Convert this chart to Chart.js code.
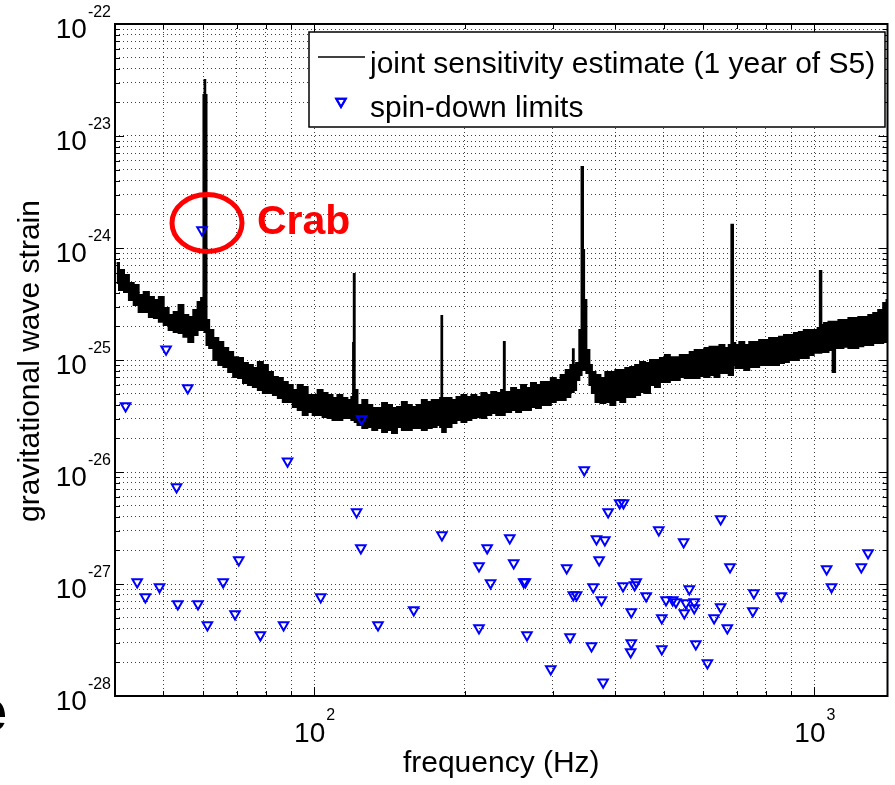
<!DOCTYPE html>
<html>
<head>
<meta charset="utf-8">
<script src="https://cdn.jsdelivr.net/npm/chart.js@4.4.1/dist/chart.umd.min.js"></script>
<style>
  html, body { margin: 0; padding: 0; background: #fff; }
  #wrap { width: 895px; height: 785px; }
</style>
</head>
<body>
<div id="wrap"><canvas id="strainChart" width="895" height="785"></canvas></div>
<script>
// joint sensitivity estimate: upper and lower edge of the noisy band (Hz, strain)
const sensFreq = [
  40.3, 41.2, 42.2, 43.1, 44.1, 45.1, 46.2, 47.3, 48.4, 49.5,
  50.6, 51.8, 53.0, 54.2, 55.4, 56.7, 58.0, 59.0, 59.9, 60.3,
  60.5, 60.7, 61.2, 62.2, 63.6, 65.1, 66.6, 68.1, 69.7, 71.3,
  72.9, 74.6, 76.3, 78.1, 79.9, 81.8, 83.7, 85.6, 87.6, 89.6,
  91.7, 93.8, 96.0, 98.2, 100.5, 102.8, 105.2, 107.6, 110.1, 112.6,
  115.2, 117.9, 119.5, 119.8, 120.3, 120.8, 123.4, 126.3, 129.2, 132.2,
  135.2, 138.3, 141.5, 144.8, 148.1, 151.5, 155.0, 158.6, 162.3, 166.1,
  169.9, 173.8, 177.8, 179.4, 180.0, 180.6, 186.1, 190.4, 194.8, 199.3,
  203.9, 208.6, 213.5, 218.4, 223.4, 228.6, 233.9, 239.0, 240.0, 241.0,
  244.8, 250.5, 256.3, 262.2, 268.2, 274.5, 280.8, 287.3, 293.9, 300.7,
  307.6, 314.7, 322.0, 328.5, 329.7, 331.0, 337.0, 340.9, 344.0, 345.5,
  347.5, 352.8, 357.3, 361.0, 369.3, 377.8, 386.5, 395.5, 404.6, 414.0,
  423.5, 433.3, 443.2, 453.5, 464.0, 474.7, 485.6, 496.9, 508.3, 520.1,
  532.1, 544.4, 556.9, 569.8, 582.9, 596.4, 610.2, 624.3, 638.7, 653.4,
  668.5, 680, 685, 690, 699.8, 716.0, 732.5, 749.5, 766.7, 784.5,
  802.5, 821.1, 840, 859.5, 879.3, 899.6, 920.4, 941.7, 963.3, 985.6,
  1008, 1022, 1029, 1036, 1055, 1079, 1096, 1104, 1130, 1156,
  1183, 1210, 1238, 1267, 1296, 1326, 1357, 1388, 1400
];
const sensHigh = [
  7.35e-25, 6.37e-25, 5.74e-25, 4.87e-25, 4.68e-25, 3.81e-25, 4.05e-25, 3.65e-25, 3.44e-25, 3.65e-25,
  2.91e-25, 2.52e-25, 2.68e-25, 3.10e-25, 2.52e-25, 2.42e-25, 2.80e-25, 3.30e-25, 3.58e-25, 2.32e-23,
  3.16e-23, 2.32e-23, 2.28e-25, 1.85e-25, 1.57e-25, 1.45e-25, 1.28e-25, 1.18e-25, 1.06e-25, 1.04e-25,
  9.41e-26, 9.03e-26, 8.49e-26, 9.61e-26, 9.03e-26, 7.82e-26, 7.06e-26, 6.91e-26, 6.37e-26, 5.99e-26,
  5.40e-26, 5.99e-26, 5.74e-26, 4.87e-26, 4.87e-26, 5.40e-26, 5.08e-26, 4.87e-26, 4.58e-26, 4.87e-26,
  4.58e-26, 4.40e-26, 4.68e-26, 1.42e-25, 5.86e-25, 5.40e-26, 3.97e-26, 4.40e-26, 3.97e-26, 3.73e-26,
  3.73e-26, 4.13e-26, 3.97e-26, 3.73e-26, 3.81e-26, 4.22e-26, 3.97e-26, 3.81e-26, 3.97e-26, 4.40e-26,
  4.22e-26, 4.40e-26, 4.40e-26, 4.58e-26, 2.47e-25, 4.58e-26, 4.58e-26, 4.40e-26, 4.68e-26, 4.87e-26,
  4.68e-26, 4.87e-26, 4.68e-26, 5.08e-26, 4.87e-26, 5.18e-26, 5.08e-26, 5.40e-26, 1.45e-25, 5.18e-26,
  5.18e-26, 5.63e-26, 5.40e-26, 5.99e-26, 5.63e-26, 6.24e-26, 5.99e-26, 6.37e-26, 6.37e-26, 6.91e-26,
  6.63e-26, 7.35e-26, 8.15e-26, 9.03e-26, 1.25e-25, 9.03e-26, 9.41e-26, 1.85e-25, 5.29e-24, 9.61e-25,
  3.44e-25, 1.23e-25, 9.03e-26, 7.82e-26, 7.35e-26, 6.91e-26, 7.82e-26, 7.82e-26, 8.15e-26, 8.15e-26,
  8.49e-26, 8.67e-26, 9.03e-26, 9.61e-26, 9.41e-26, 1.00e-25, 1.00e-25, 1.04e-25, 1.11e-25, 1.06e-25,
  1.06e-25, 1.11e-25, 1.11e-25, 1.18e-25, 1.23e-25, 1.23e-25, 1.28e-25, 1.31e-25, 1.31e-25, 1.36e-25,
  1.28e-25, 1.36e-25, 1.61e-24, 1.42e-25, 1.36e-25, 1.45e-25, 1.36e-25, 1.45e-25, 1.45e-25, 1.51e-25,
  1.51e-25, 1.57e-25, 1.57e-25, 1.61e-25, 1.67e-25, 1.67e-25, 1.74e-25, 1.78e-25, 1.85e-25, 1.85e-25,
  1.85e-25, 1.93e-25, 6.24e-25, 2.05e-25, 2.14e-25, 2.19e-25, 2.19e-25, 2.19e-25, 2.28e-25, 2.28e-25,
  2.37e-25, 2.37e-25, 2.42e-25, 2.42e-25, 2.52e-25, 2.63e-25, 2.80e-25, 3.23e-25, 3.44e-25
];
const sensLow = [
  4.87e-25, 4.22e-25, 4.05e-25, 3.44e-25, 3.10e-25, 2.68e-25, 2.68e-25, 2.42e-25, 2.37e-25, 2.19e-25,
  2.05e-25, 1.85e-25, 1.78e-25, 1.74e-25, 1.61e-25, 1.45e-25, 1.67e-25, 1.85e-25, 1.85e-25, 1.85e-25,
  1.78e-25, 1.78e-25, 1.36e-25, 1.28e-25, 1.00e-25, 9.03e-26, 8.67e-26, 7.82e-26, 7.06e-26, 6.91e-26,
  6.24e-26, 5.99e-26, 5.74e-26, 5.40e-26, 5.08e-26, 5.08e-26, 4.87e-26, 4.58e-26, 4.22e-26, 4.22e-26,
  3.81e-26, 3.58e-26, 3.23e-26, 3.44e-26, 3.23e-26, 3.23e-26, 3.10e-26, 3.04e-26, 2.91e-26, 2.91e-26,
  3.04e-26, 3.04e-26, 2.91e-26, 2.91e-26, 2.91e-26, 2.80e-26, 2.63e-26, 2.47e-26, 2.52e-26, 2.37e-26,
  2.47e-26, 2.28e-26, 2.37e-26, 2.23e-26, 2.52e-26, 2.37e-26, 2.37e-26, 2.47e-26, 2.47e-26, 2.37e-26,
  2.47e-26, 2.52e-26, 2.63e-26, 2.52e-26, 2.52e-26, 2.28e-26, 2.52e-26, 2.74e-26, 2.91e-26, 2.80e-26,
  2.91e-26, 3.04e-26, 3.10e-26, 3.04e-26, 3.23e-26, 3.37e-26, 3.23e-26, 3.23e-26, 3.23e-26, 3.44e-26,
  3.44e-26, 3.58e-26, 3.44e-26, 3.58e-26, 3.58e-26, 3.81e-26, 3.73e-26, 3.97e-26, 3.97e-26, 4.22e-26,
  4.40e-26, 4.40e-26, 4.68e-26, 5.18e-26, 5.18e-26, 5.40e-26, 6.63e-26, 7.35e-26, 8.15e-26, 8.15e-26,
  8.15e-26, 7.66e-26, 5.99e-26, 5.08e-26, 4.22e-26, 4.13e-26, 4.22e-26, 3.97e-26, 4.40e-26, 4.22e-26,
  4.68e-26, 4.68e-26, 4.87e-26, 5.18e-26, 5.08e-26, 5.99e-26, 5.74e-26, 6.37e-26, 6.37e-26, 6.63e-26,
  6.63e-26, 7.06e-26, 6.91e-26, 6.91e-26, 6.91e-26, 7.20e-26, 7.06e-26, 7.35e-26, 7.06e-26, 7.66e-26,
  7.66e-26, 7.35e-26, 7.35e-26, 9.03e-26, 8.49e-26, 8.49e-26, 8.15e-26, 8.67e-26, 8.67e-26, 9.03e-26,
  9.03e-26, 9.03e-26, 9.03e-26, 9.41e-26, 9.61e-26, 1.00e-25, 1.00e-25, 1.04e-25, 1.04e-25, 1.11e-25,
  1.16e-25, 1.16e-25, 1.16e-25, 1.18e-25, 1.18e-25, 1.23e-25, 7.82e-26, 1.28e-25, 1.28e-25, 1.31e-25,
  1.28e-25, 1.28e-25, 1.33e-25, 1.36e-25, 1.36e-25, 1.42e-25, 1.42e-25, 1.45e-25, 1.51e-25
];

// spin-down limits of known pulsars (Hz, strain)
const pulsarFreq = [
  59.7, 42.0, 44.3, 46.0, 49.1, 50.6, 53.1, 53.4, 55.9, 58.6,
  61.2, 65.8, 69.5, 70.7, 78.1, 86.9, 88.5, 103.1, 121.6, 124.0,
  124.4, 134.2, 158.2, 180.1, 213.6, 213.6, 221.8, 225.3, 246.1, 250.6,
  262.4, 264.4, 266.4, 297.2, 319.8, 324.8, 329.7, 334.7, 346.7, 358.5,
  361.3, 366.8, 371.3, 375.3, 378.2, 381.2, 387.0, 408.2, 415.3, 414.4,
  430.5, 430.5, 429.3, 437.2, 440.4, 461.0, 488.6, 495.4, 495.4, 505.2,
  520.9, 528.8, 547.8, 549.5, 553.6, 562.3, 575.2, 575.2, 579.4, 611.2,
  630.3, 649.6, 649.6, 669.8, 678.2, 753.3, 756.8, 858.5, 1058, 1082,
  1241, 1280
];
const pulsarLimit = [
  1.45e-24, 3.89e-26, 1.04e-27, 7.66e-28, 9.41e-28, 1.25e-25, 7.35e-27, 6.63e-28, 5.63e-26, 6.63e-28,
  4.31e-28, 1.04e-27, 5.40e-28, 1.64e-27, 3.51e-28, 4.31e-28, 1.25e-26, 7.66e-28, 4.40e-27, 2.10e-27,
  2.97e-26, 4.31e-28, 5.86e-28, 2.74e-27, 1.45e-27, 4.05e-28, 2.10e-27, 1.02e-27, 2.58e-27, 1.54e-27,
  1.04e-27, 1.04e-27, 3.51e-28, 1.74e-28, 1.39e-27, 3.37e-28, 7.98e-28, 7.98e-28, 1.04e-26, 2.80e-28,
  9.41e-28, 2.52e-27, 1.64e-27, 7.20e-28, 1.33e-28, 2.47e-27, 4.40e-27, 5.29e-27, 5.29e-27, 9.61e-28,
  5.63e-28, 2.97e-28, 2.47e-28, 9.81e-28, 1.04e-27, 7.82e-28, 3.04e-27, 4.97e-28, 2.63e-28, 7.20e-28,
  7.20e-28, 6.91e-28, 2.37e-27, 5.51e-28, 6.77e-28, 9.03e-28, 6.91e-28, 6.11e-28, 2.91e-28, 1.97e-28,
  4.97e-28, 3.81e-27, 6.24e-28, 4.05e-28, 1.42e-27, 5.74e-28, 8.32e-28, 7.82e-28, 1.36e-27, 9.41e-28,
  1.42e-27, 1.89e-27
];

// axes: decades get a label, the rest are minor grid lines
const xDecadeExp = [2, 3];
const xMinorTicks = [50, 60, 70, 80, 90, 200, 300, 400, 500, 600, 700, 800, 900];
const yDecadeExp = [-28, -27, -26, -25, -24, -23, -22];
const yMinorSteps = [2, 3, 4, 5, 6, 7, 8, 9];

const FONT = '"Liberation Sans", Arial, Helvetica, sans-serif';
const GRID = 'rgba(0,0,0,0.75)';

const xTicks = xDecadeExp.map(e => ({ value: Math.pow(10, e), major: true }))
  .concat(xMinorTicks.map(v => ({ value: v, major: false })));
const yTicks = [];
yDecadeExp.forEach((e, i) => {
  yTicks.push({ value: Math.pow(10, e), major: true });
  if (i < yDecadeExp.length - 1) {
    yMinorSteps.forEach(m => yTicks.push({ value: m * Math.pow(10, e), major: false }));
  }
});

const matlabLook = {
  id: 'matlabLook',
  afterDraw(chart) {
    const { ctx, chartArea: a, scales: { x, y } } = chart;
    ctx.save();

    // inward ticks on all four sides
    ctx.strokeStyle = '#000';
    ctx.lineWidth = 1;
    ctx.beginPath();
    x.ticks.forEach(t => {
      const px = Math.round(x.getPixelForValue(t.value)) + 0.5;
      const len = t.major ? 9 : 5;
      ctx.moveTo(px, a.bottom); ctx.lineTo(px, a.bottom - len);
      ctx.moveTo(px, a.top); ctx.lineTo(px, a.top + len);
    });
    y.ticks.forEach(t => {
      const py = Math.round(y.getPixelForValue(t.value)) + 0.5;
      const len = t.major ? 9 : 5;
      ctx.moveTo(a.left, py); ctx.lineTo(a.left + len, py);
      ctx.moveTo(a.right, py); ctx.lineTo(a.right - len, py);
    });
    ctx.stroke();
    ctx.lineWidth = 2;
    ctx.strokeRect(a.left, a.top, a.right - a.left, a.bottom - a.top);

    // tick labels 10^n
    ctx.fillStyle = '#000';
    ctx.textBaseline = 'alphabetic';
    yDecadeExp.forEach(e => {
      const py = y.getPixelForValue(Math.pow(10, e));
      const sup = String(e);
      ctx.font = '16px ' + FONT;
      const sw = ctx.measureText(sup).width;
      ctx.textAlign = 'left';
      ctx.fillText(sup, a.left - 4 - sw, py - 7);
      ctx.font = '28px ' + FONT;
      ctx.textAlign = 'right';
      ctx.fillText('10', a.left - 5 - sw, py + 14);
    });
    xDecadeExp.forEach(e => {
      const px = x.getPixelForValue(Math.pow(10, e));
      const sup = String(e);
      ctx.font = '28px ' + FONT;
      const w10 = ctx.measureText('10').width;
      ctx.font = '16px ' + FONT;
      const sw = ctx.measureText(sup).width;
      const left = px - (w10 + sw) / 2;
      ctx.textAlign = 'left';
      ctx.fillText(sup, left + w10 + 1, 720);
      ctx.font = '28px ' + FONT;
      ctx.fillText('10', left, 742);
    });

    // axis titles
    ctx.font = '30px ' + FONT;
    ctx.textAlign = 'center';
    ctx.fillText('frequency (Hz)', (a.left + a.right) / 2, 772);
    ctx.save();
    ctx.translate(39, (a.top + a.bottom) / 2 + 1);
    ctx.rotate(-Math.PI / 2);
    ctx.fillText('gravitational wave strain', 0, 0);
    ctx.restore();

    // legend
    ctx.fillStyle = '#fff';
    ctx.fillRect(309, 32, 576, 95);
    ctx.strokeStyle = '#000';
    ctx.lineWidth = 1.5;
    ctx.strokeRect(309, 32, 576, 95);
    ctx.beginPath();
    ctx.moveTo(318, 57); ctx.lineTo(365, 57);
    ctx.stroke();
    ctx.strokeStyle = '#0000ff';
    ctx.lineWidth = 2;
    Chart.helpers.drawPoint(ctx, { pointStyle: 'triangle', rotation: 180, radius: 5.5, borderWidth: 2 }, 341, 101.5);
    ctx.stroke();
    ctx.fillStyle = '#000';
    ctx.font = '30px ' + FONT;
    ctx.textAlign = 'left';
    ctx.fillText('joint sensitivity estimate (1 year of S5)', 370, 73);
    ctx.fillText('spin-down limits', 370, 117);

    // Crab annotation
    ctx.strokeStyle = '#ff0000';
    ctx.lineWidth = 5;
    ctx.beginPath();
    ctx.ellipse(207, 223, 35, 28.5, 0, 0, Math.PI * 2);
    ctx.stroke();
    ctx.fillStyle = '#ff0000';
    ctx.font = 'bold 41px ' + FONT;
    ctx.fillText('Crab', 257, 234);

    // clipped letter at the left edge of the slide
    ctx.fillStyle = '#000';
    ctx.font = 'bold 60px ' + FONT;
    ctx.textAlign = 'right';
    ctx.fillText('e', 7, 731);

    ctx.restore();
  }
};

new Chart(document.getElementById('strainChart'), {
  type: 'line',
  data: {
    datasets: [
      {
        label: 'joint sensitivity estimate (1 year of S5)',
        data: sensFreq.map((f, i) => ({ x: f, y: sensHigh[i] })),
        borderColor: '#000',
        backgroundColor: '#000',
        borderWidth: 2,
        pointRadius: 0,
        stepped: 'middle',
        fill: '+1',
        order: 2
      },
      {
        label: 'band floor',
        data: sensFreq.map((f, i) => ({ x: f, y: sensLow[i] })),
        borderColor: '#000',
        borderWidth: 2,
        pointRadius: 0,
        stepped: 'middle',
        fill: false,
        order: 2
      },
      {
        label: 'spin-down limits',
        data: pulsarFreq.map((f, i) => ({ x: f, y: pulsarLimit[i] })),
        showLine: false,
        pointStyle: 'triangle',
        rotation: 180,
        pointRadius: 5.5,
        borderColor: '#0000ff',
        backgroundColor: 'rgba(0,0,0,0)',
        borderWidth: 2,
        order: 0
      }
    ]
  },
  options: {
    responsive: false,
    animation: false,
    events: [],
    layout: { padding: { left: 0, right: 3, top: 24, bottom: 0 } },
    plugins: {
      legend: { display: false },
      tooltip: { enabled: false },
      title: { display: false }
    },
    scales: {
      x: {
        type: 'logarithmic',
        min: 40,
        max: 1400,
        afterBuildTicks: s => { s.ticks = xTicks.map(t => ({ ...t })); },
        afterFit: s => { s.height = 89; },
        ticks: { display: false },
        grid: { color: GRID, lineWidth: 1, drawTicks: false },
        border: { display: false, dash: [1, 3] }
      },
      y: {
        type: 'logarithmic',
        min: 1e-28,
        max: 1e-22,
        afterBuildTicks: s => { s.ticks = yTicks.map(t => ({ ...t })); },
        afterFit: s => { s.width = 115; },
        ticks: { display: false },
        grid: { color: GRID, lineWidth: 1, drawTicks: false },
        border: { display: false, dash: [1, 3] }
      }
    }
  },
  plugins: [matlabLook]
});
</script>
</body>
</html>
